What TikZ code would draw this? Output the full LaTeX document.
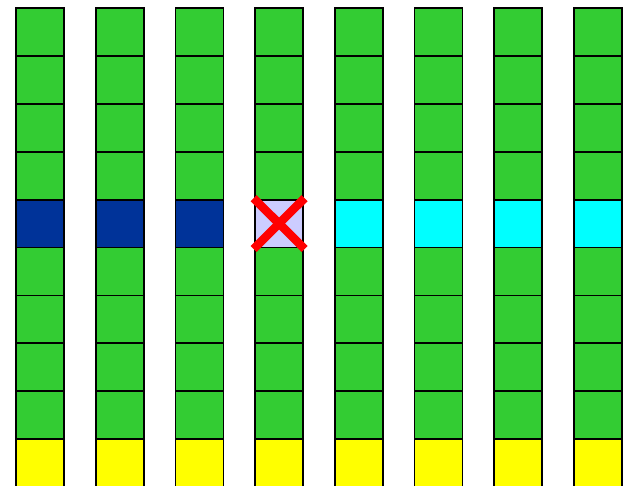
\documentclass[tikz,border=0pt]{standalone}
\usetikzlibrary{calc}
\definecolor{cellgreen}{RGB}{51,204,51}
\definecolor{cellblue}{RGB}{0,51,153}
\definecolor{cellcyan}{RGB}{0,255,255}
\definecolor{cellyellow}{RGB}{255,255,0}
\definecolor{celllav}{RGB}{204,204,255}

\begin{document}
\begin{tikzpicture}[
    x=1pt, y=1pt,
    cell/.style={rectangle, draw=black, line width=1.8pt, fill=cellgreen, minimum width=48pt, minimum height=47.9pt, inner sep=0pt, outer sep=0pt},
    cross/.style={draw=red, line width=8.5pt}
]
\useasboundingbox (0,0) rectangle (623,-486);
% columns of cells
\foreach \c in {0,...,7} {
  \foreach \r in {0,1,2,3,5,6,7,8}
    \node[cell] (c\c-\r) at ({40+79.7*\c}, {-32-47.9*\r}) {};
  \node[cell, fill=cellyellow] (c\c-9) at ({40+79.7*\c}, {-32-47.9*9}) {};
}
% middle row
\foreach \c in {0,1,2}
  \node[cell, fill=cellblue] (c\c-4) at ({40+79.7*\c}, {-32-47.9*4}) {};
\node[cell, fill=celllav] (c3-4) at ({40+79.7*3}, {-32-47.9*4}) {};
\foreach \c in {4,...,7}
  \node[cell, fill=cellcyan] (c\c-4) at ({40+79.7*\c}, {-32-47.9*4}) {};
% cross
\draw[cross] ($(c3-4.north west)+(-1.5,1.5)$) -- ($(c3-4.south east)+(1.5,-1.5)$);
\draw[cross] ($(c3-4.south west)+(-1.5,-1.5)$) -- ($(c3-4.north east)+(1.5,1.5)$);
\end{tikzpicture}
\end{document}
